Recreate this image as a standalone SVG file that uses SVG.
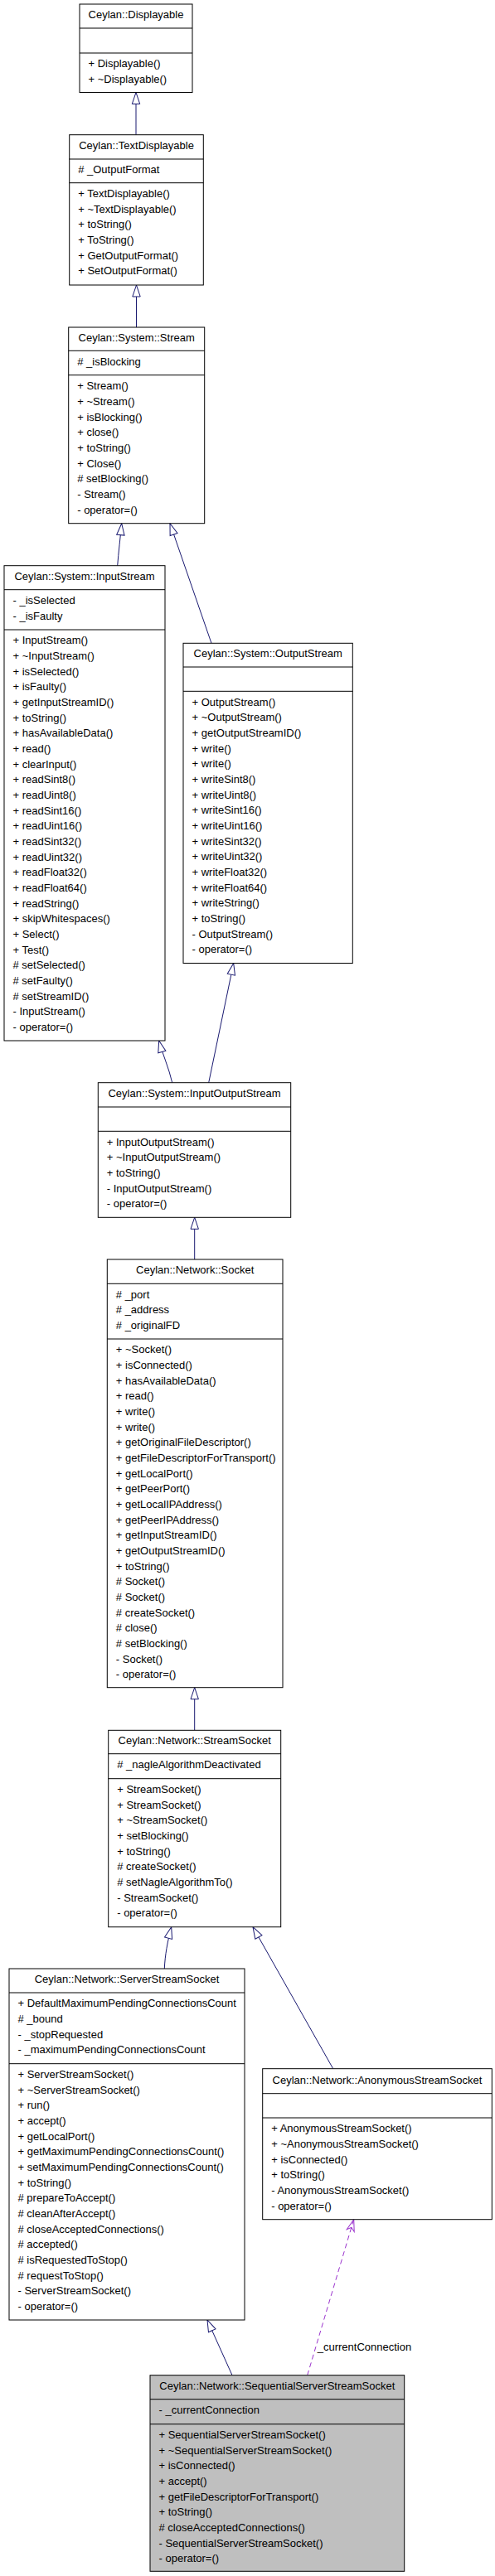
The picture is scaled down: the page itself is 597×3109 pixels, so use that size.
<svg xmlns="http://www.w3.org/2000/svg" width="597" height="3109" viewBox="0 0 597 3109">
<style>
  .box { fill: #ffffff; stroke: #000000; stroke-width: 1; }
  .boxg { fill: #bfbfbf; stroke: #000000; stroke-width: 1; }
  .sep { stroke: #000000; stroke-width: 1; }
  text { font-family: "Liberation Sans", Arial, Helvetica, sans-serif; font-size: 13px; fill: #000000; }
  .t { text-anchor: middle; }
  .inh { fill: none; stroke: #191970; stroke-width: 1; marker-end: url(#tri); }
  .use { fill: none; stroke: #9a32cd; stroke-width: 1; stroke-dasharray: 6,4; marker-end: url(#vee); }
  .lbl { fill: #000000; }
</style>
<defs>
  <marker id="tri" markerUnits="userSpaceOnUse" viewBox="-1 -1 16 12" refX="14" refY="5" markerWidth="16" markerHeight="12" orient="auto">
    <path d="M0,0.3 L14,5 L0,9.7 Z" fill="#ffffff" stroke="#191970" stroke-width="1"/>
  </marker>
  <marker id="vee" markerUnits="userSpaceOnUse" viewBox="-1 -1 16 12" refX="14" refY="5" markerWidth="16" markerHeight="12" orient="auto">
    <path d="M0,0.3 L14,5 L0,9.7 L4,5 Z" fill="none" stroke="#9a32cd" stroke-width="1" stroke-dasharray="none"/>
  </marker>
</defs>
<rect x="0" y="0" width="597" height="3109" fill="#ffffff"/>

<g id="connectors">
  <path class="inh" d="M164,162.7 L164,111.5"/>
  <path class="inh" d="M164.5,395 L164.5,344"/>
  <path class="inh" d="M141.7,682.7 C143,666 145,650 146.7,631.7"/>
  <path class="inh" d="M255,776.3 L205,631.7"/>
  <path class="inh" d="M207.7,1306.7 C204,1290 196,1272 191.7,1256"/>
  <path class="inh" d="M251.7,1306.7 L281.7,1162.5"/>
  <path class="inh" d="M234.7,1520 L234.7,1469.3"/>
  <path class="inh" d="M234.7,2088.3 L234.7,2036.7"/>
  <path class="inh" d="M198.3,2376 C199,2360 202,2343 206.7,2325.7"/>
  <path class="inh" d="M401.7,2496.7 L305,2325.7"/>
  <path class="inh" d="M280,2866.7 L250,2800"/>
  <path class="use" d="M370.7,2866.7 L426.7,2678.7"/>
  <text class="lbl" x="382.7" y="2836.7">_currentConnection</text>
</g>

<g id="displayable">
  <rect class="box" x="96" y="5" width="136" height="106.5"/>
  <line class="sep" x1="96" y1="34" x2="232" y2="34"/>
  <line class="sep" x1="96" y1="64" x2="232" y2="64"/>
  <text class="t" x="164" y="22">Ceylan::Displayable</text>
  <text x="106.5" y="81.3">+ Displayable()</text>
  <text x="106.5" y="100">+ ~Displayable()</text>
</g>

<g id="textdisplayable">
  <rect class="box" x="83.7" y="162.7" width="161.6" height="181.3"/>
  <line class="sep" x1="83.7" y1="192" x2="245.3" y2="192"/>
  <line class="sep" x1="83.7" y1="220.7" x2="245.3" y2="220.7"/>
  <text class="t" x="164.5" y="179.7">Ceylan::TextDisplayable</text>
  <text x="94.2" y="208.5"># _OutputFormat</text>
  <text x="94.2" y="238"><tspan x="94.2">+ TextDisplayable()</tspan><tspan x="94.2" dy="18.67">+ ~TextDisplayable()</tspan><tspan x="94.2" dy="18.67">+ toString()</tspan><tspan x="94.2" dy="18.67">+ ToString()</tspan><tspan x="94.2" dy="18.67">+ GetOutputFormat()</tspan><tspan x="94.2" dy="18.67">+ SetOutputFormat()</tspan></text>
</g>

<g id="stream">
  <rect class="box" x="82.7" y="395" width="164" height="236.7"/>
  <line class="sep" x1="82.7" y1="423.3" x2="246.7" y2="423.3"/>
  <line class="sep" x1="82.7" y1="452.7" x2="246.7" y2="452.7"/>
  <text class="t" x="164.7" y="411.7">Ceylan::System::Stream</text>
  <text x="93.2" y="440.8"># _isBlocking</text>
  <text x="93.2" y="470.2"><tspan x="93.2">+ Stream()</tspan><tspan x="93.2" dy="18.67">+ ~Stream()</tspan><tspan x="93.2" dy="18.67">+ isBlocking()</tspan><tspan x="93.2" dy="18.67">+ close()</tspan><tspan x="93.2" dy="18.67">+ toString()</tspan><tspan x="93.2" dy="18.67">+ Close()</tspan><tspan x="93.2" dy="18.67"># setBlocking()</tspan><tspan x="93.2" dy="18.67">- Stream()</tspan><tspan x="93.2" dy="18.67">- operator=()</tspan></text>
</g>

<g id="inputstream">
  <rect class="box" x="5" y="682.7" width="194" height="573.3"/>
  <line class="sep" x1="5" y1="711.7" x2="199" y2="711.7"/>
  <line class="sep" x1="5" y1="760" x2="199" y2="760"/>
  <text class="t" x="102" y="700">Ceylan::System::InputStream</text>
  <text x="15.5" y="729"><tspan x="15.5">- _isSelected</tspan><tspan x="15.5" dy="18.67">- _isFaulty</tspan></text>
  <text x="15.5" y="777.3"><tspan x="15.5">+ InputStream()</tspan><tspan x="15.5" dy="18.67">+ ~InputStream()</tspan><tspan x="15.5" dy="18.67">+ isSelected()</tspan><tspan x="15.5" dy="18.67">+ isFaulty()</tspan><tspan x="15.5" dy="18.67">+ getInputStreamID()</tspan><tspan x="15.5" dy="18.67">+ toString()</tspan><tspan x="15.5" dy="18.67">+ hasAvailableData()</tspan><tspan x="15.5" dy="18.67">+ read()</tspan><tspan x="15.5" dy="18.67">+ clearInput()</tspan><tspan x="15.5" dy="18.67">+ readSint8()</tspan><tspan x="15.5" dy="18.67">+ readUint8()</tspan><tspan x="15.5" dy="18.67">+ readSint16()</tspan><tspan x="15.5" dy="18.67">+ readUint16()</tspan><tspan x="15.5" dy="18.67">+ readSint32()</tspan><tspan x="15.5" dy="18.67">+ readUint32()</tspan><tspan x="15.5" dy="18.67">+ readFloat32()</tspan><tspan x="15.5" dy="18.67">+ readFloat64()</tspan><tspan x="15.5" dy="18.67">+ readString()</tspan><tspan x="15.5" dy="18.67">+ skipWhitespaces()</tspan><tspan x="15.5" dy="18.67">+ Select()</tspan><tspan x="15.5" dy="18.67">+ Test()</tspan><tspan x="15.5" dy="18.67"># setSelected()</tspan><tspan x="15.5" dy="18.67"># setFaulty()</tspan><tspan x="15.5" dy="18.67"># setStreamID()</tspan><tspan x="15.5" dy="18.67">- InputStream()</tspan><tspan x="15.5" dy="18.67">- operator=()</tspan></text>
</g>

<g id="outputstream">
  <rect class="box" x="221" y="776.3" width="204.3" height="386.2"/>
  <line class="sep" x1="221" y1="805" x2="425.3" y2="805"/>
  <line class="sep" x1="221" y1="834.3" x2="425.3" y2="834.3"/>
  <text class="t" x="323.2" y="793">Ceylan::System::OutputStream</text>
  <text x="231.5" y="851.6"><tspan x="231.5">+ OutputStream()</tspan><tspan x="231.5" dy="18.67">+ ~OutputStream()</tspan><tspan x="231.5" dy="18.67">+ getOutputStreamID()</tspan><tspan x="231.5" dy="18.67">+ write()</tspan><tspan x="231.5" dy="18.67">+ write()</tspan><tspan x="231.5" dy="18.67">+ writeSint8()</tspan><tspan x="231.5" dy="18.67">+ writeUint8()</tspan><tspan x="231.5" dy="18.67">+ writeSint16()</tspan><tspan x="231.5" dy="18.67">+ writeUint16()</tspan><tspan x="231.5" dy="18.67">+ writeSint32()</tspan><tspan x="231.5" dy="18.67">+ writeUint32()</tspan><tspan x="231.5" dy="18.67">+ writeFloat32()</tspan><tspan x="231.5" dy="18.67">+ writeFloat64()</tspan><tspan x="231.5" dy="18.67">+ writeString()</tspan><tspan x="231.5" dy="18.67">+ toString()</tspan><tspan x="231.5" dy="18.67">- OutputStream()</tspan><tspan x="231.5" dy="18.67">- operator=()</tspan></text>
</g>

<g id="inputoutputstream">
  <rect class="box" x="118.3" y="1306.7" width="232.4" height="162.6"/>
  <line class="sep" x1="118.3" y1="1336" x2="350.7" y2="1336"/>
  <line class="sep" x1="118.3" y1="1365.3" x2="350.7" y2="1365.3"/>
  <text class="t" x="234.5" y="1323.5">Ceylan::System::InputOutputStream</text>
  <text x="128.8" y="1382.6"><tspan x="128.8">+ InputOutputStream()</tspan><tspan x="128.8" dy="18.67">+ ~InputOutputStream()</tspan><tspan x="128.8" dy="18.67">+ toString()</tspan><tspan x="128.8" dy="18.67">- InputOutputStream()</tspan><tspan x="128.8" dy="18.67">- operator=()</tspan></text>
</g>

<g id="socket">
  <rect class="box" x="129.3" y="1520" width="211.7" height="516.7"/>
  <line class="sep" x1="129.3" y1="1549.3" x2="341" y2="1549.3"/>
  <line class="sep" x1="129.3" y1="1616" x2="341" y2="1616"/>
  <text class="t" x="235.2" y="1536.7">Ceylan::Network::Socket</text>
  <text x="139.8" y="1566.6"><tspan x="139.8"># _port</tspan><tspan x="139.8" dy="18.67"># _address</tspan><tspan x="139.8" dy="18.67"># _originalFD</tspan></text>
  <text x="139.8" y="1633.3"><tspan x="139.8">+ ~Socket()</tspan><tspan x="139.8" dy="18.67">+ isConnected()</tspan><tspan x="139.8" dy="18.67">+ hasAvailableData()</tspan><tspan x="139.8" dy="18.67">+ read()</tspan><tspan x="139.8" dy="18.67">+ write()</tspan><tspan x="139.8" dy="18.67">+ write()</tspan><tspan x="139.8" dy="18.67">+ getOriginalFileDescriptor()</tspan><tspan x="139.8" dy="18.67">+ getFileDescriptorForTransport()</tspan><tspan x="139.8" dy="18.67">+ getLocalPort()</tspan><tspan x="139.8" dy="18.67">+ getPeerPort()</tspan><tspan x="139.8" dy="18.67">+ getLocalIPAddress()</tspan><tspan x="139.8" dy="18.67">+ getPeerIPAddress()</tspan><tspan x="139.8" dy="18.67">+ getInputStreamID()</tspan><tspan x="139.8" dy="18.67">+ getOutputStreamID()</tspan><tspan x="139.8" dy="18.67">+ toString()</tspan><tspan x="139.8" dy="18.67"># Socket()</tspan><tspan x="139.8" dy="18.67"># Socket()</tspan><tspan x="139.8" dy="18.67"># createSocket()</tspan><tspan x="139.8" dy="18.67"># close()</tspan><tspan x="139.8" dy="18.67"># setBlocking()</tspan><tspan x="139.8" dy="18.67">- Socket()</tspan><tspan x="139.8" dy="18.67">- operator=()</tspan></text>
</g>

<g id="streamsocket">
  <rect class="box" x="130.7" y="2088.3" width="208" height="237.4"/>
  <line class="sep" x1="130.7" y1="2116.7" x2="338.7" y2="2116.7"/>
  <line class="sep" x1="130.7" y1="2146.7" x2="338.7" y2="2146.7"/>
  <text class="t" x="234.7" y="2104.5">Ceylan::Network::StreamSocket</text>
  <text x="141.2" y="2134.2"># _nagleAlgorithmDeactivated</text>
  <text x="141.2" y="2164"><tspan x="141.2">+ StreamSocket()</tspan><tspan x="141.2" dy="18.67">+ StreamSocket()</tspan><tspan x="141.2" dy="18.67">+ ~StreamSocket()</tspan><tspan x="141.2" dy="18.67">+ setBlocking()</tspan><tspan x="141.2" dy="18.67">+ toString()</tspan><tspan x="141.2" dy="18.67"># createSocket()</tspan><tspan x="141.2" dy="18.67"># setNagleAlgorithmTo()</tspan><tspan x="141.2" dy="18.67">- StreamSocket()</tspan><tspan x="141.2" dy="18.67">- operator=()</tspan></text>
</g>

<g id="serverstreamsocket">
  <rect class="box" x="11" y="2376" width="284" height="424"/>
  <line class="sep" x1="11" y1="2405" x2="295" y2="2405"/>
  <line class="sep" x1="11" y1="2490.7" x2="295" y2="2490.7"/>
  <text class="t" x="153" y="2393.3">Ceylan::Network::ServerStreamSocket</text>
  <text x="21.5" y="2422.3"><tspan x="21.5">+ DefaultMaximumPendingConnectionsCount</tspan><tspan x="21.5" dy="18.67"># _bound</tspan><tspan x="21.5" dy="18.67">- _stopRequested</tspan><tspan x="21.5" dy="18.67">- _maximumPendingConnectionsCount</tspan></text>
  <text x="21.5" y="2508"><tspan x="21.5">+ ServerStreamSocket()</tspan><tspan x="21.5" dy="18.67">+ ~ServerStreamSocket()</tspan><tspan x="21.5" dy="18.67">+ run()</tspan><tspan x="21.5" dy="18.67">+ accept()</tspan><tspan x="21.5" dy="18.67">+ getLocalPort()</tspan><tspan x="21.5" dy="18.67">+ getMaximumPendingConnectionsCount()</tspan><tspan x="21.5" dy="18.67">+ setMaximumPendingConnectionsCount()</tspan><tspan x="21.5" dy="18.67">+ toString()</tspan><tspan x="21.5" dy="18.67"># prepareToAccept()</tspan><tspan x="21.5" dy="18.67"># cleanAfterAccept()</tspan><tspan x="21.5" dy="18.67"># closeAcceptedConnections()</tspan><tspan x="21.5" dy="18.67"># accepted()</tspan><tspan x="21.5" dy="18.67"># isRequestedToStop()</tspan><tspan x="21.5" dy="18.67"># requestToStop()</tspan><tspan x="21.5" dy="18.67">- ServerStreamSocket()</tspan><tspan x="21.5" dy="18.67">- operator=()</tspan></text>
</g>

<g id="anonymousstreamsocket">
  <rect class="box" x="316.7" y="2496.7" width="276.6" height="182"/>
  <line class="sep" x1="316.7" y1="2526.7" x2="593.3" y2="2526.7"/>
  <line class="sep" x1="316.7" y1="2556" x2="593.3" y2="2556"/>
  <text class="t" x="455" y="2515">Ceylan::Network::AnonymousStreamSocket</text>
  <text x="327.2" y="2573.3"><tspan x="327.2">+ AnonymousStreamSocket()</tspan><tspan x="327.2" dy="18.67">+ ~AnonymousStreamSocket()</tspan><tspan x="327.2" dy="18.67">+ isConnected()</tspan><tspan x="327.2" dy="18.67">+ toString()</tspan><tspan x="327.2" dy="18.67">- AnonymousStreamSocket()</tspan><tspan x="327.2" dy="18.67">- operator=()</tspan></text>
</g>

<g id="sequentialserverstreamsocket">
  <rect class="boxg" x="181" y="2866.7" width="306.7" height="236.6"/>
  <line class="sep" x1="181" y1="2895.7" x2="487.7" y2="2895.7"/>
  <line class="sep" x1="181" y1="2925.7" x2="487.7" y2="2925.7"/>
  <text class="t" x="334.3" y="2884">Ceylan::Network::SequentialServerStreamSocket</text>
  <text x="191.5" y="2913.3">- _currentConnection</text>
  <text x="191.5" y="2943"><tspan x="191.5">+ SequentialServerStreamSocket()</tspan><tspan x="191.5" dy="18.67">+ ~SequentialServerStreamSocket()</tspan><tspan x="191.5" dy="18.67">+ isConnected()</tspan><tspan x="191.5" dy="18.67">+ accept()</tspan><tspan x="191.5" dy="18.67">+ getFileDescriptorForTransport()</tspan><tspan x="191.5" dy="18.67">+ toString()</tspan><tspan x="191.5" dy="18.67"># closeAcceptedConnections()</tspan><tspan x="191.5" dy="18.67">- SequentialServerStreamSocket()</tspan><tspan x="191.5" dy="18.67">- operator=()</tspan></text>
</g>
</svg>
